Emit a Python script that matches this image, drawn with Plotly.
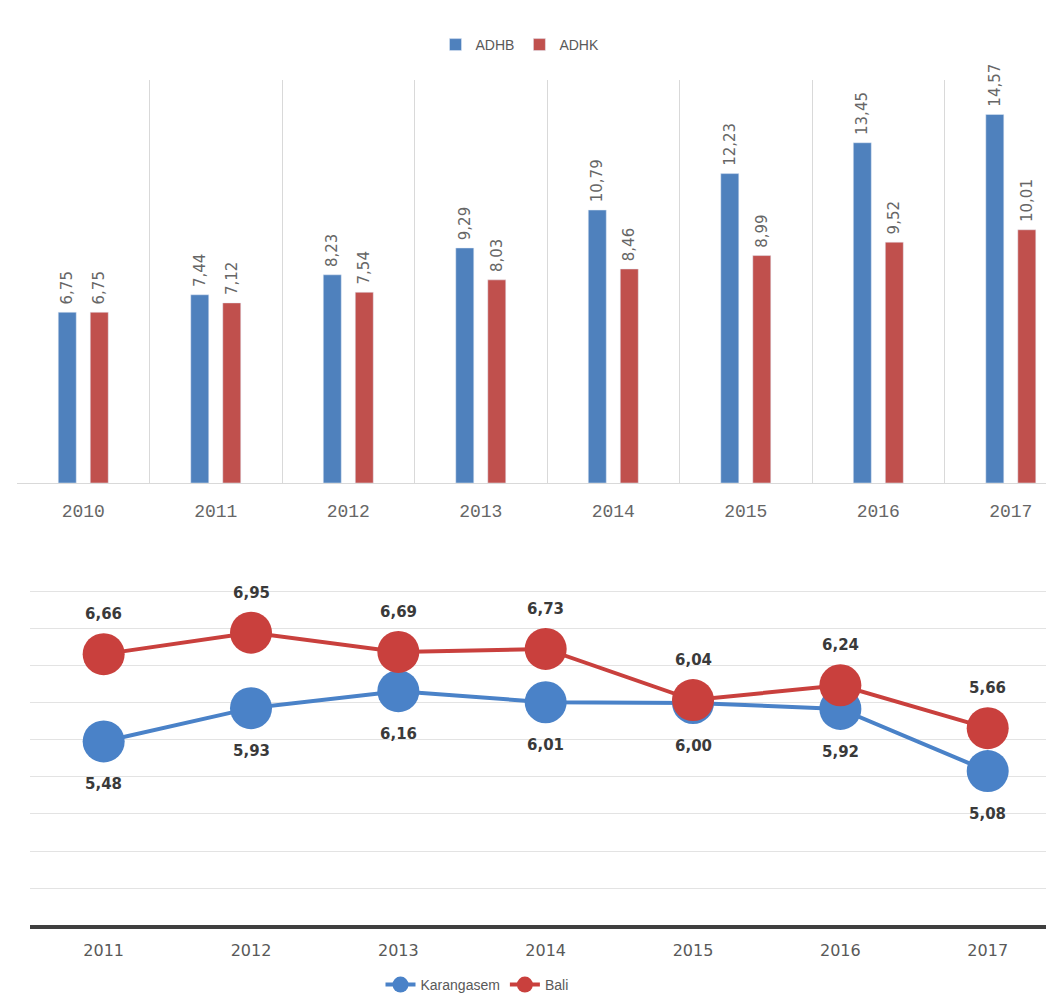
import plotly.graph_objects as go

# ---- data ----
bar_years = ["2010", "2011", "2012", "2013", "2014", "2015", "2016", "2017"]
adhb = [6.75, 7.44, 8.23, 9.29, 10.79, 12.23, 13.45, 14.57]
adhk = [6.75, 7.12, 7.54, 8.03, 8.46, 8.99, 9.52, 10.01]

line_years = ["2011", "2012", "2013", "2014", "2015", "2016", "2017"]
karangasem = [5.48, 5.93, 6.16, 6.01, 6.00, 5.92, 5.08]
bali = [6.66, 6.95, 6.69, 6.73, 6.04, 6.24, 5.66]

BLUE = "#4F81BD"
RED = "#C0504D"
LBLUE = "#4A82C8"
LRED = "#C9403D"
GRAY = "#595959"

W, H = 1046, 997  # page body has an 8px margin

fig = go.Figure()

for name, vals, col in (("ADHB", adhb, BLUE), ("ADHK", adhk, RED)):
    fig.add_trace(go.Bar(
        x=bar_years, y=vals, name=name, marker_color=col,
        texttemplate="\u00a0%{y:.2f}", textposition="outside", textangle=-90,
        textfont=dict(size=15, color="#666666", family="DejaVu Sans"),
        constraintext="none", cliponaxis=False,
        xaxis="x", yaxis="y", legend="legend",
    ))

fig.add_trace(go.Scatter(
    x=line_years, y=karangasem, name="Karangasem", mode="lines+markers",
    line=dict(color=LBLUE, width=4), marker=dict(size=42, color=LBLUE),
    xaxis="x2", yaxis="y2", legend="legend2", cliponaxis=False,
))
fig.add_trace(go.Scatter(
    x=line_years, y=bali, name="Bali", mode="lines+markers",
    line=dict(color=LRED, width=4), marker=dict(size=42, color=LRED),
    xaxis="x2", yaxis="y2", legend="legend2", cliponaxis=False,
))


def fmt(v):
    return "<b>" + f"{v:.2f}".replace(".", ",") + "</b>"


lab_font = dict(size=15, color="#3A3A3A", family="DejaVu Sans")
for i, v in enumerate(bali):
    fig.add_annotation(x=i, y=v, xref="x2", yref="y2", text=fmt(v),
                       showarrow=False, yshift=40, font=lab_font)
for i, v in enumerate(karangasem):
    fig.add_annotation(x=i, y=v, xref="x2", yref="y2", text=fmt(v),
                       showarrow=False, yshift=-43, font=lab_font)

fig.update_layout(
    width=W, height=H,
    margin=dict(l=0, r=0, t=0, b=0, autoexpand=False),
    paper_bgcolor="white", plot_bgcolor="white",
    separators=",.",
    barmode="group", bargap=0.517, bargroupgap=0.4375,
    showlegend=True,
    xaxis=dict(
        domain=[9 / W, 1], range=[-0.5, 7.326],
        type="category", tickson="boundaries",
        showgrid=True, gridcolor="#D9D9D9", gridwidth=1,
        showline=True, linecolor="#D9D9D9", linewidth=1,
        ticks="", ticklabelstandoff=11,
        tickfont=dict(family="Liberation Mono", size=18, color="#666666"),
        anchor="y",
    ),
    yaxis=dict(
        domain=[522 / H, 925 / H], range=[0, 15.93],
        showgrid=False, zeroline=False, showticklabels=False,
        anchor="x",
    ),
    xaxis2=dict(
        domain=[22 / W, 1], range=[-0.5, 6.45],
        type="category", showgrid=False,
        showline=True, linecolor="#3F3F3F", linewidth=4,
        ticks="", ticklabelstandoff=8,
        tickfont=dict(family="DejaVu Sans", size=16, color=GRAY),
        anchor="y2",
    ),
    yaxis2=dict(
        domain=[80 / H, 414.5 / H], range=[3, 7.52],
        dtick=0.5, tick0=3,
        showgrid=True, gridcolor="#E3E3E3", gridwidth=1,
        zeroline=False, showticklabels=False,
        anchor="x2",
    ),
    legend=dict(
        orientation="h", x=512 / W, xanchor="center", y=1 - 37 / H, yanchor="middle",
        font=dict(family="Liberation Sans", size=14, color=GRAY),
        traceorder="normal",
    ),
    legend2=dict(
        orientation="h", x=469 / W, xanchor="center", y=20 / H, yanchor="middle",
        font=dict(family="Liberation Sans", size=14, color=GRAY),
        traceorder="normal",
    ),
)

fig.write_html("out.html")
